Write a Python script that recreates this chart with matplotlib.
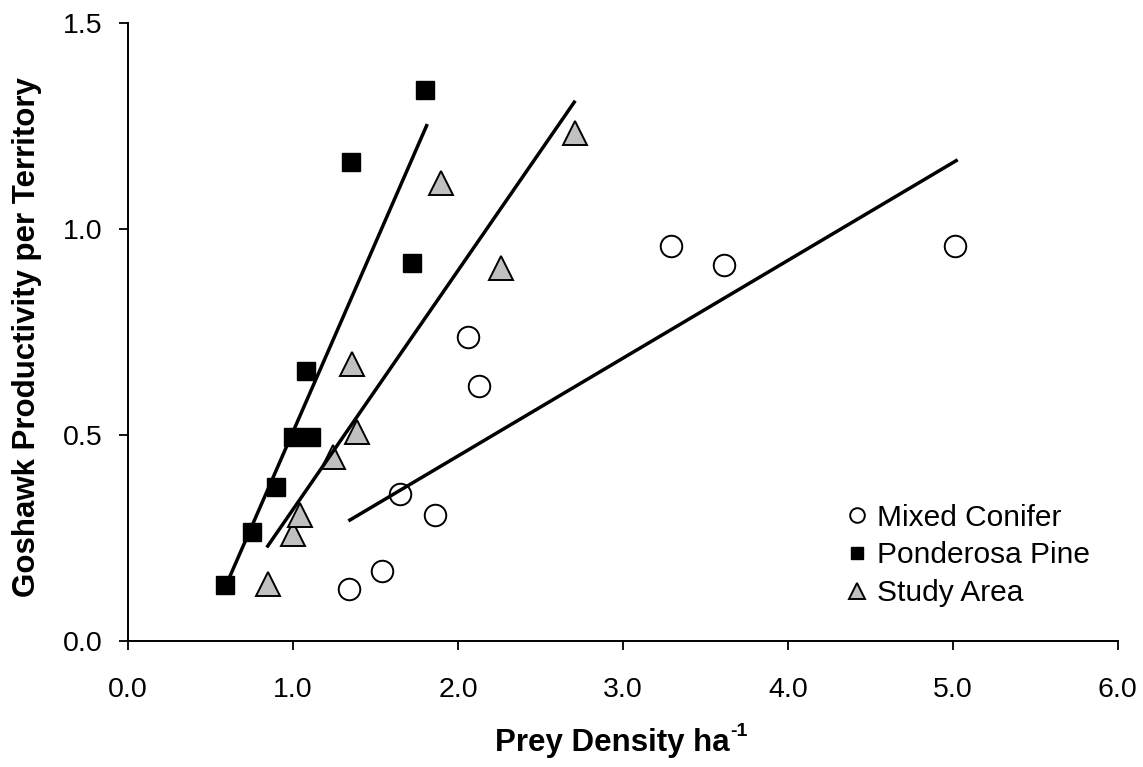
import numpy as np
import matplotlib
matplotlib.use('Agg')
import matplotlib.pyplot as plt

plt.rcParams['font.family'] = ['Liberation Sans', 'DejaVu Sans']

# data
mixed_x = [1.34, 1.54, 1.65, 1.86, 2.06, 2.13, 3.29, 3.61, 5.01]
mixed_y = [0.127, 0.170, 0.358, 0.307, 0.737, 0.619, 0.960, 0.913, 0.960]
pond_x = [0.59, 0.75, 0.90, 1.00, 1.11, 1.08, 1.35, 1.72, 1.80]
pond_y = [0.136, 0.265, 0.373, 0.496, 0.496, 0.656, 1.163, 0.917, 1.337]
study_x = [0.85, 1.00, 1.04, 1.24, 1.39, 1.36, 1.90, 2.26, 2.71]
study_y = [0.138, 0.259, 0.306, 0.446, 0.507, 0.672, 1.112, 0.905, 1.232]

# fitted line end points
mixed_fit_x = [1.345, 5.02]
mixed_fit_y = [0.294, 1.166]
pond_fit_x = [0.59, 1.81]
pond_fit_y = [0.132, 1.251]
study_fit_x = [0.847, 2.705]
study_fit_y = [0.231, 1.308]

fig = plt.figure(figsize=(11.43, 7.67), dpi=100)
ax = fig.add_axes([0.112, 0.164, 0.866, 0.806])

ax.plot(mixed_x, mixed_y, 'o', ms=15.5, mfc='white', mec='black', mew=1.4,
        label='Mixed Conifer', zorder=2)
ax.plot(pond_x, pond_y, 's', ms=13.5, mfc='black', mec='black', mew=1.0,
        label='Ponderosa Pine', zorder=2)
ax.plot(study_x, study_y, '^', ms=17, mfc='#c0c0c0', mec='black', mew=1.4,
        label='Study Area', zorder=2)

for fx, fy in [(mixed_fit_x, mixed_fit_y), (pond_fit_x, pond_fit_y), (study_fit_x, study_fit_y)]:
    ax.plot(fx, fy, '-', color='black', lw=2.5, zorder=3)

ax.set_xlim(0, 6)
ax.set_ylim(0, 1.5)
ax.set_xticks(np.arange(0, 7, 1))
ax.set_xticklabels([f'{v:.1f}' for v in range(7)])
ax.set_yticks([0, 0.5, 1.0, 1.5])
ax.set_yticklabels(['0.0', '0.5', '1.0', '1.5'])
ax.tick_params(direction='out', length=6.5, width=1.3, labelsize=20.5)
ax.tick_params(axis='x', pad=19)
ax.tick_params(axis='y', pad=12)

for s in ['top', 'right']:
    ax.spines[s].set_visible(False)
for s in ['left', 'bottom']:
    ax.spines[s].set_linewidth(1.4)

ax.set_xlabel('Prey Density ha', fontsize=22.5, fontweight='bold')
ax.set_ylabel('Goshawk Productivity per Territory', fontsize=22.5, fontweight='bold')
ax.xaxis.set_label_coords(0.489, -0.141)
ax.yaxis.set_label_coords(-0.087, 0.492)
# superscript -1 after the x label
ax.annotate('-1', xy=(1, 1), xycoords=ax.xaxis.label, xytext=(0.5, 4),
            textcoords='offset points', ha='left', va='top',
            fontsize=14, fontweight='bold')

ax.legend(loc='lower left', bbox_to_anchor=(0.726, 0.055), frameon=False, fontsize=21.5,
          markerscale=0.68, handlelength=0.7, handletextpad=0.32, labelspacing=0.33,
          borderpad=0, borderaxespad=0)

fig.savefig('out.png', dpi=100)
